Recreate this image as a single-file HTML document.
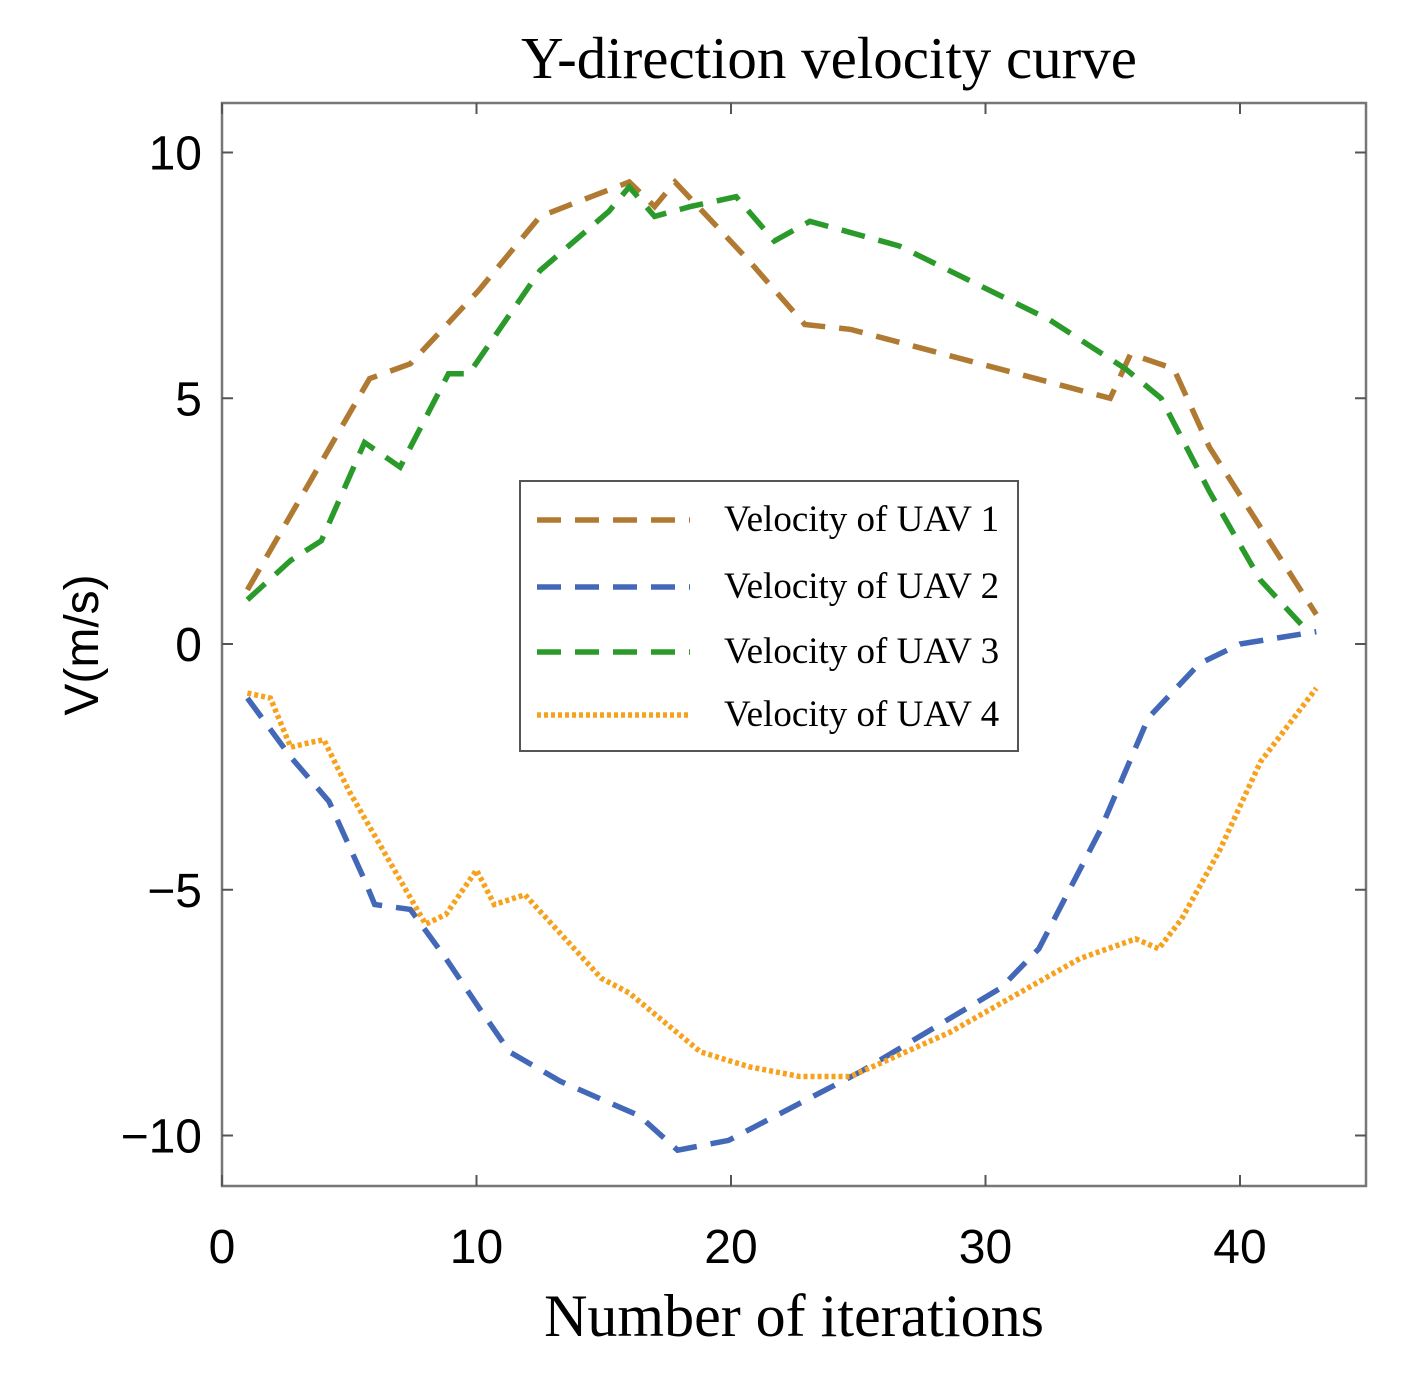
<!DOCTYPE html>
<html><head><meta charset="utf-8"><style>body{margin:0;background:#fff}svg{display:block}</style></head>
<body>
<svg id="chart" width="1427" height="1379" xmlns="http://www.w3.org/2000/svg">
<text x="829" y="78" text-anchor="middle" font-family="Liberation Serif, serif" font-size="59">Y-direction velocity curve</text>
<rect x="222" y="103" width="1144" height="1083" fill="none" stroke="#777" stroke-width="2.5"/>
<g id="ticks"></g>
<g id="series"></g>
<text x="794" y="1336" text-anchor="middle" font-family="Liberation Serif, serif" font-size="60">Number of iterations</text>
<text transform="translate(98,645) rotate(-90)" text-anchor="middle" font-family="Liberation Sans, sans-serif" font-size="48">V(m/s)</text>
<g>
<rect x="520" y="481" width="498" height="270" fill="#fff" stroke="#555" stroke-width="2"/>
<g id="legend-items"></g>
</g>
</svg>
<script>
const xTicks=[0,10,20,30,40];
const yTicks=[10,5,0,-5,-10];
const yTickLabels=["10","5","0","\u22125","\u221210"];
const seriesNames=["Velocity of UAV 1","Velocity of UAV 2","Velocity of UAV 3","Velocity of UAV 4"];
const uav1X=[1,5.8,7.4,10.1,12.5,16,17,17.8,20.7,22.9,24.7,34.9,35.7,37.4,38.8,43];
const uav1Y=[1.1,5.4,5.7,7.2,8.7,9.4,8.9,9.4,7.8,6.5,6.4,5,5.9,5.6,4,0.6];
const uav2X=[1,2.7,4.2,5.6,6,7.4,8.8,10.1,11.3,13.3,16.4,17.9,19.9,25.1,30.6,32.1,34.5,36.4,38.4,40,43];
const uav2Y=[-1.1,-2.3,-3.2,-4.8,-5.3,-5.4,-6.4,-7.4,-8.3,-8.9,-9.6,-10.3,-10.1,-8.7,-7,-6.2,-3.8,-1.5,-0.4,0,0.25];
const uav3X=[1,2.7,3.9,5.6,7,8.9,9.7,12.5,15.2,16,17,18.4,20.2,21.7,23.1,26.6,32.5,35.5,36.9,38.8,40.8,42.4];
const uav3Y=[0.9,1.7,2.1,4.1,3.6,5.5,5.5,7.6,8.8,9.3,8.7,8.9,9.1,8.2,8.6,8.1,6.6,5.6,5,3.1,1.3,0.4];
const uav4X=[1,1.9,2.7,3.5,4,5,7,8,8.8,10,10.7,11.9,14.9,16,18.8,20.7,22.7,24.7,28.6,33.7,35.9,36.8,37.7,39.2,40.8,43];
const uav4Y=[-1,-1.1,-2.1,-2,-1.95,-3,-4.8,-5.7,-5.5,-4.6,-5.3,-5.1,-6.8,-7.1,-8.3,-8.6,-8.8,-8.8,-7.9,-6.4,-6,-6.2,-5.6,-4.2,-2.4,-0.9];
const NS="http://www.w3.org/2000/svg";
const sx=v=>222+25.45*v, sy=v=>644-49.15*v;
const styles=[{c:"#b07a32",d:"24 14"},{c:"#4468b8",d:"24 14"},{c:"#2a9a2a",d:"24 14"},{c:"#f7a21e",d:"4 3"}];
const data=[[uav1X,uav1Y],[uav2X,uav2Y],[uav3X,uav3Y],[uav4X,uav4Y]];
const tg=document.getElementById('ticks');
function el(t,a,p){const e=document.createElementNS(NS,t);for(const k in a)e.setAttribute(k,a[k]);p.appendChild(e);return e;}
xTicks.forEach(v=>{
 const x=sx(v);
 const l=el('path',{d:`M${x},1186v-11M${x},103v11`,stroke:'#555','stroke-width':2},tg);
 
 
 const t=el('text',{x:x,y:1263,'text-anchor':'middle','font-family':'Liberation Sans, sans-serif','font-size':48},tg);
 t.textContent=v;
 
 
});
yTicks.forEach((v,i)=>{
 const y=sy(v);
 const l=el('path',{d:`M222,${y}h11M1366,${y}h-11`,stroke:'#555','stroke-width':2},tg);
 
 
 const t=el('text',{x:202,y:y+17,'text-anchor':'end','font-family':'Liberation Sans, sans-serif','font-size':48},tg);
 t.textContent=yTickLabels[i];
 
 
});
const sg=document.getElementById('series');
data.forEach((s,i)=>{
 const d=s[0].map((x,j)=>(j?'L':'M')+sx(x).toFixed(1)+','+sy(s[1][j]).toFixed(1)).join('');
 const p=el('path',{d:d,fill:'none',stroke:styles[i].c,'stroke-width':5.5,'stroke-dasharray':styles[i].d},sg);
 
 
});
const lg=document.getElementById('legend-items');
const ly=[520,587,652,715];
seriesNames.forEach((n,i)=>{
 const l=el('path',{d:`M537,${ly[i]}H690`,stroke:styles[i].c,'stroke-width':5.5,'stroke-dasharray':styles[i].d},lg);
 
 
 const t=el('text',{x:724,y:ly[i]+11,'font-family':'Liberation Serif, serif','font-size':37},lg);
 t.textContent=n;
 
 
});
</script>
</body></html>
